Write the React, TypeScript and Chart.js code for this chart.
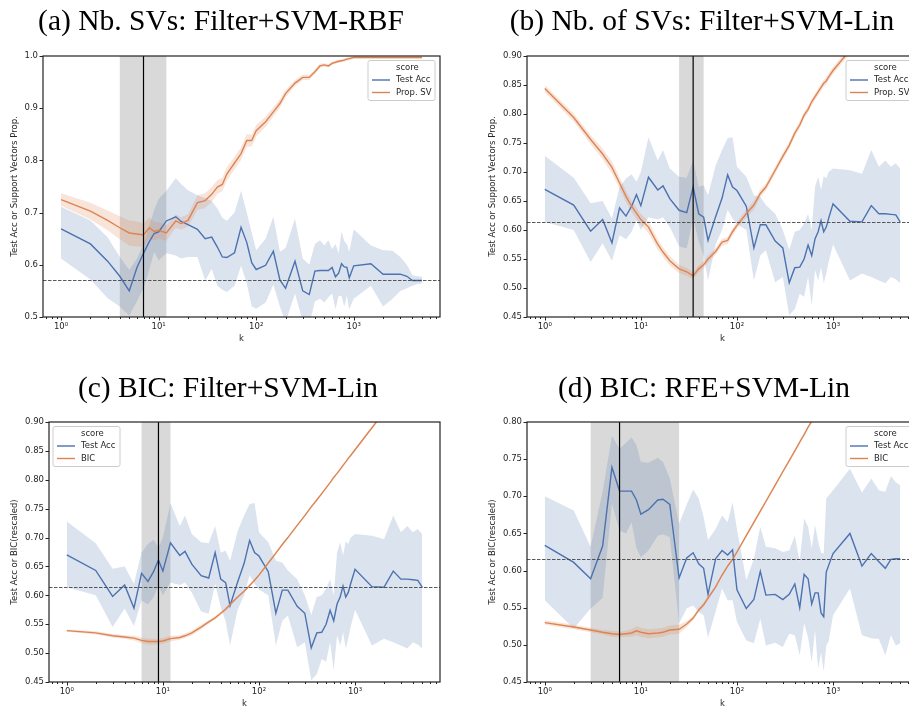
import React, { useEffect, useRef } from "react";
import { Chart, registerables } from "chart.js";
Chart.register(...registerables);

// ---------------- data ----------------
const kValues = [
  1, 2, 3, 4, 5, 6, 7, 8, 9, 10,
  12, 15, 17, 20, 25, 30, 35, 40, 45, 50,
  60, 70, 80, 90, 100, 125, 150, 175, 200, 250,
  300, 350, 400, 450, 500, 550, 600, 650, 700, 750,
  800, 850, 900, 1000, 1500, 2000, 2500, 3000, 3500, 4000,
  4500, 5000,
];

// (a) Filter + SVM-RBF
const rbfAcc = [
  0.669, 0.640, 0.607, 0.578, 0.550, 0.595, 0.622, 0.644, 0.660, 0.663,
  0.684, 0.692, 0.683, 0.677, 0.668, 0.650, 0.653, 0.634, 0.615, 0.614,
  0.623, 0.672, 0.643, 0.604, 0.591, 0.599, 0.626, 0.571, 0.555, 0.607,
  0.550, 0.543, 0.588, 0.589, 0.589, 0.589, 0.595, 0.577, 0.584, 0.602,
  0.596, 0.595, 0.575, 0.598, 0.602, 0.582, 0.582, 0.582, 0.578, 0.570,
  0.570, 0.570,
];
const rbfAccHi = [
  0.711, 0.685, 0.653, 0.615, 0.590, 0.612, 0.640, 0.675, 0.705, 0.726,
  0.742, 0.766, 0.755, 0.743, 0.733, 0.728, 0.722, 0.708, 0.690, 0.684,
  0.700, 0.742, 0.700, 0.662, 0.628, 0.650, 0.692, 0.625, 0.632, 0.688,
  0.612, 0.600, 0.640, 0.647, 0.637, 0.647, 0.630, 0.640, 0.622, 0.664,
  0.645, 0.640, 0.625, 0.668, 0.637, 0.628, 0.627, 0.615, 0.600, 0.580,
  0.578, 0.577,
];
const rbfAccLo = [
  0.612, 0.572, 0.536, 0.520, 0.503, 0.530, 0.555, 0.590, 0.625, 0.608,
  0.622, 0.618, 0.612, 0.615, 0.615, 0.570, 0.592, 0.560, 0.552, 0.548,
  0.560, 0.598, 0.565, 0.520, 0.516, 0.528, 0.562, 0.520, 0.490, 0.545,
  0.492, 0.486, 0.530, 0.535, 0.528, 0.538, 0.545, 0.515, 0.540, 0.540,
  0.520, 0.540, 0.515, 0.535, 0.560, 0.520, 0.535, 0.550, 0.555, 0.560,
  0.563, 0.564,
];
const rbfSV = [
  0.725, 0.703, 0.685, 0.671, 0.661, 0.659, 0.657, 0.671, 0.664, 0.666,
  0.661, 0.684, 0.679, 0.685, 0.719, 0.723, 0.735, 0.749, 0.754, 0.774,
  0.795, 0.813, 0.838, 0.838, 0.857, 0.874, 0.893, 0.909, 0.928, 0.948,
  0.959, 0.959, 0.970, 0.981, 0.983, 0.981, 0.986, 0.988, 0.990, 0.991,
  0.992, 0.994, 0.995, 0.997, 0.997, 0.997, 0.997, 0.997, 0.997, 0.997,
  0.997, 0.997,
];
const rbfSVHalf = [
  0.012, 0.016, 0.019, 0.022, 0.024, 0.024, 0.022, 0.020, 0.018, 0.016,
  0.015, 0.013, 0.012, 0.012, 0.014, 0.014, 0.014, 0.013, 0.013, 0.013,
  0.012, 0.012, 0.012, 0.011, 0.011, 0.010, 0.009, 0.008, 0.007, 0.006,
  0.005, 0.005, 0.004, 0.004, 0.003, 0.003, 0.003, 0.003, 0.003, 0.003,
  0.003, 0.003, 0.003, 0.002, 0.002, 0.002, 0.002, 0.002, 0.002, 0.002,
  0.002, 0.002,
];

// (b)/(c) Filter + SVM-Lin
const linAcc = [
  0.670, 0.643, 0.598, 0.618, 0.578, 0.638, 0.624, 0.641, 0.661, 0.642,
  0.691, 0.669, 0.676, 0.654, 0.634, 0.630, 0.674, 0.628, 0.622, 0.582,
  0.623, 0.655, 0.695, 0.674, 0.668, 0.641, 0.569, 0.609, 0.609, 0.581,
  0.569, 0.509, 0.535, 0.536, 0.550, 0.574, 0.556, 0.585, 0.597, 0.616,
  0.597, 0.605, 0.620, 0.645, 0.615, 0.614, 0.642, 0.628, 0.628, 0.627,
  0.626, 0.614,
];
const linAccHi = [
  0.728, 0.690, 0.646, 0.650, 0.620, 0.674, 0.689, 0.696, 0.683, 0.700,
  0.760, 0.720, 0.738, 0.706, 0.692, 0.690, 0.720, 0.674, 0.677, 0.660,
  0.711, 0.738, 0.758, 0.760, 0.709, 0.692, 0.660, 0.657, 0.643, 0.628,
  0.600, 0.566, 0.597, 0.600, 0.611, 0.628, 0.600, 0.674, 0.692, 0.669,
  0.693, 0.689, 0.700, 0.706, 0.703, 0.697, 0.738, 0.709, 0.720, 0.709,
  0.715, 0.706,
];
const linAccLo = [
  0.614, 0.600, 0.545, 0.577, 0.547, 0.591, 0.584, 0.597, 0.617, 0.600,
  0.622, 0.618, 0.622, 0.605, 0.572, 0.568, 0.620, 0.580, 0.555, 0.513,
  0.575, 0.600, 0.635, 0.620, 0.610, 0.600, 0.513, 0.556, 0.565, 0.510,
  0.519, 0.453, 0.464, 0.490, 0.485, 0.519, 0.470, 0.531, 0.513, 0.536,
  0.508, 0.525, 0.545, 0.575, 0.513, 0.525, 0.519, 0.513, 0.508, 0.519,
  0.515, 0.508,
];
const linSV = [
  0.844, 0.794, 0.756, 0.731, 0.708, 0.681, 0.658, 0.641, 0.629, 0.618,
  0.605, 0.575, 0.562, 0.547, 0.533, 0.528, 0.521, 0.533, 0.540, 0.550,
  0.563, 0.579, 0.582, 0.597, 0.608, 0.628, 0.643, 0.663, 0.674, 0.703,
  0.727, 0.746, 0.767, 0.781, 0.798, 0.808, 0.821, 0.830, 0.838, 0.846,
  0.853, 0.857, 0.864, 0.875, 0.910, 0.930, 0.945, 0.955, 0.963, 0.970,
  0.975, 0.980,
];
const linSVHalf = [
  0.006, 0.007, 0.008, 0.009, 0.010, 0.010, 0.010, 0.010, 0.010, 0.010,
  0.010, 0.009, 0.008, 0.008, 0.007, 0.007, 0.006, 0.006, 0.006, 0.006,
  0.006, 0.006, 0.006, 0.006, 0.006, 0.007, 0.008, 0.007, 0.006, 0.006,
  0.006, 0.006, 0.006, 0.006, 0.006, 0.006, 0.006, 0.006, 0.006, 0.006,
  0.006, 0.006, 0.006, 0.006, 0.006, 0.006, 0.006, 0.006, 0.006, 0.006,
  0.006, 0.006,
];
const bicLin = [
  0.539, 0.535, 0.530, 0.528, 0.526, 0.522, 0.520, 0.520, 0.520, 0.521,
  0.525, 0.527, 0.530, 0.535, 0.545, 0.554, 0.561, 0.569, 0.576, 0.584,
  0.597, 0.607, 0.617, 0.626, 0.635, 0.656, 0.673, 0.688, 0.700, 0.721,
  0.738, 0.753, 0.765, 0.776, 0.786, 0.795, 0.804, 0.811, 0.818, 0.825,
  0.831, 0.837, 0.842, 0.852, 0.890, 0.917, 0.938, 0.955, 0.970, 0.982,
  0.994, 1.004,
];
const bicLinHalf = [
  0.002, 0.003, 0.003, 0.003, 0.004, 0.005, 0.005, 0.005, 0.005, 0.005,
  0.005, 0.004, 0.004, 0.004, 0.004, 0.003, 0.003, 0.003, 0.003, 0.003,
  0.002, 0.002, 0.002, 0.002, 0.002, 0.002, 0.002, 0.002, 0.002, 0.002,
  0.002, 0.002, 0.002, 0.002, 0.002, 0.002, 0.002, 0.002, 0.002, 0.002,
  0.002, 0.002, 0.002, 0.002, 0.002, 0.002, 0.002, 0.002, 0.002, 0.002,
  0.002, 0.002,
];

// (d) RFE + SVM-Lin
const rfeAcc = [
  0.634, 0.611, 0.589, 0.633, 0.739, 0.707, 0.707, 0.707, 0.695, 0.676,
  0.682, 0.695, 0.696, 0.689, 0.590, 0.617, 0.624, 0.609, 0.603, 0.568,
  0.616, 0.627, 0.621, 0.628, 0.574, 0.549, 0.561, 0.599, 0.567, 0.568,
  0.561, 0.568, 0.582, 0.550, 0.595, 0.589, 0.555, 0.570, 0.570, 0.543,
  0.538, 0.598, 0.607, 0.623, 0.650, 0.606, 0.623, 0.612, 0.603, 0.615,
  0.616, 0.616,
];
const rfeAccHi = [
  0.700, 0.681, 0.632, 0.706, 0.781, 0.764, 0.772, 0.779, 0.769, 0.746,
  0.745, 0.752, 0.746, 0.724, 0.663, 0.689, 0.709, 0.697, 0.672, 0.641,
  0.656, 0.674, 0.665, 0.692, 0.656, 0.587, 0.616, 0.659, 0.632, 0.630,
  0.625, 0.627, 0.647, 0.612, 0.670, 0.659, 0.630, 0.661, 0.639, 0.624,
  0.623, 0.697, 0.701, 0.708, 0.737, 0.705, 0.724, 0.708, 0.706, 0.727,
  0.719, 0.715,
];
const rfeAccLo = [
  0.560, 0.522, 0.549, 0.563, 0.690, 0.654, 0.650, 0.665, 0.630, 0.618,
  0.627, 0.647, 0.649, 0.645, 0.529, 0.549, 0.553, 0.544, 0.540, 0.510,
  0.545, 0.576, 0.560, 0.560, 0.531, 0.506, 0.502, 0.535, 0.499, 0.503,
  0.497, 0.515, 0.513, 0.486, 0.529, 0.510, 0.477, 0.520, 0.468, 0.490,
  0.464, 0.499, 0.505, 0.540, 0.576, 0.513, 0.509, 0.508, 0.486, 0.513,
  0.499, 0.502,
];
const rfeBic = [
  0.530, 0.524, 0.520, 0.517, 0.515, 0.514, 0.515, 0.516, 0.519, 0.517,
  0.515, 0.516, 0.517, 0.520, 0.521, 0.528, 0.536, 0.547, 0.554, 0.563,
  0.578, 0.594, 0.606, 0.615, 0.625, 0.647, 0.665, 0.680, 0.693, 0.715,
  0.733, 0.748, 0.761, 0.773, 0.783, 0.793, 0.801, 0.809, 0.816, 0.823,
  0.829, 0.835, 0.840, 0.851, 0.891, 0.919, 0.941, 0.959, 0.974, 0.987,
  0.999, 1.009,
];
const rfeBicHalf = [
  0.003, 0.003, 0.003, 0.003, 0.004, 0.004, 0.004, 0.005, 0.006, 0.006,
  0.006, 0.006, 0.006, 0.006, 0.006, 0.004, 0.003, 0.003, 0.003, 0.003,
  0.002, 0.002, 0.002, 0.002, 0.002, 0.002, 0.002, 0.002, 0.002, 0.002,
  0.002, 0.002, 0.002, 0.002, 0.002, 0.002, 0.002, 0.002, 0.002, 0.002,
  0.002, 0.002, 0.002, 0.002, 0.002, 0.002, 0.002, 0.002, 0.002, 0.002,
  0.002, 0.002,
];

// ticks
const xTickValues = [1, 10, 100, 1000];
const xTickLabels = ["10\u2070", "10\u00b9", "10\u00b2", "10\u00b3"];
const yTicksA = [0.5, 0.6, 0.7, 0.8, 0.9, 1.0];
const yTicksBC = [0.45, 0.5, 0.55, 0.6, 0.65, 0.7, 0.75, 0.8, 0.85, 0.9];
const yTicksD = [0.45, 0.5, 0.55, 0.6, 0.65, 0.7, 0.75, 0.8];

const titles = [
  "(a) Nb. SVs: Filter+SVM-RBF",
  "(b) Nb. of SVs: Filter+SVM-Lin",
  "(c) BIC: Filter+SVM-Lin",
  "(d) BIC: RFE+SVM-Lin",
];

// ---------------- styles ----------------
const BLUE = "#4c72b0";
const ORANGE = "#dd8452";
const TEXT = "#262626";
const X_MIN = 0.653;
const X_MAX = 7660;
const FONT = "DejaVu Sans";

type Spec = {
  left: number; top: number; width: number; height: number;
  area: { left: number; top: number; right: number; bottom: number };
  yMin: number; yMax: number; yTicks: number[]; yDec: number;
  acc: number[]; accLo: number[]; accHi: number[];
  other: number[]; otherHalf: number[]; otherLabel: string;
  span: [number, number]; best: number; baseline: number;
  yTitle: string; yTitleOffset: number; legendSide: "left" | "right";
};

const specs: Spec[] = [
  {
    left: 0, top: 40, width: 450, height: 320,
    area: { left: 43, top: 16, right: 440, bottom: 277 },
    yMin: 0.5, yMax: 1.0, yTicks: yTicksA, yDec: 1,
    acc: rbfAcc, accLo: rbfAccLo, accHi: rbfAccHi,
    other: rbfSV, otherHalf: rbfSVHalf, otherLabel: "Prop. SV",
    span: [4, 12], best: 7, baseline: 0.570,
    yTitle: "Test Acc or Support Vectors Prop.", yTitleOffset: 28, legendSide: "right",
  },
  {
    left: 460, top: 40, width: 470, height: 320,
    area: { left: 67, top: 16, right: 458, bottom: 277 },
    yMin: 0.45, yMax: 0.9, yTicks: yTicksBC, yDec: 2,
    acc: linAcc, accLo: linAccLo, accHi: linAccHi,
    other: linSV, otherHalf: linSVHalf, otherLabel: "Prop. SV",
    span: [25, 45], best: 35, baseline: 0.614,
    yTitle: "Test Acc or Support Vectors Prop.", yTitleOffset: 34, legendSide: "right",
  },
  {
    left: 0, top: 406, width: 450, height: 303,
    area: { left: 49, top: 16, right: 440, bottom: 276 },
    yMin: 0.45, yMax: 0.9, yTicks: yTicksBC, yDec: 2,
    acc: linAcc, accLo: linAccLo, accHi: linAccHi,
    other: bicLin, otherHalf: bicLinHalf, otherLabel: "BIC",
    span: [6, 12], best: 9, baseline: 0.614,
    yTitle: "Test Acc or BIC(rescaled)", yTitleOffset: 34, legendSide: "left",
  },
  {
    left: 460, top: 406, width: 470, height: 303,
    area: { left: 67, top: 16, right: 458, bottom: 276 },
    yMin: 0.45, yMax: 0.8, yTicks: yTicksD, yDec: 2,
    acc: rfeAcc, accLo: rfeAccLo, accHi: rfeAccHi,
    other: rfeBic, otherHalf: rfeBicHalf, otherLabel: "BIC",
    span: [3, 25], best: 6, baseline: 0.616,
    yTitle: "Test Acc or BIC(rescaled)", yTitleOffset: 34, legendSide: "right",
  },
];

function overlay(s: Spec) {
  return {
    id: "overlay",
    beforeDatasetsDraw(chart: any) {
      const { ctx, chartArea: a } = chart;
      const x = chart.scales.x;
      const x0 = x.getPixelForValue(s.span[0]);
      const x1 = x.getPixelForValue(s.span[1]);
      ctx.save();
      ctx.fillStyle = "rgba(128,128,128,0.3)";
      ctx.fillRect(x0, a.top, x1 - x0, a.bottom - a.top);
      ctx.restore();
    },
    afterDatasetsDraw(chart: any) {
      const { ctx, chartArea: a } = chart;
      const x = chart.scales.x;
      const y = chart.scales.y;
      ctx.save();
      ctx.beginPath();
      ctx.rect(a.left, a.top, a.right - a.left, a.bottom - a.top);
      ctx.clip();
      const hy = Math.round(y.getPixelForValue(s.baseline)) + 0.5;
      ctx.strokeStyle = "rgba(70,70,70,0.9)";
      ctx.lineWidth = 1;
      ctx.setLineDash([3.5, 1.5]);
      ctx.beginPath();
      ctx.moveTo(a.left, hy);
      ctx.lineTo(a.right, hy);
      ctx.stroke();
      ctx.setLineDash([]);
      const vx = x.getPixelForValue(s.best);
      ctx.strokeStyle = "#000";
      ctx.lineWidth = 1.2;
      ctx.beginPath();
      ctx.moveTo(vx, a.top);
      ctx.lineTo(vx, a.bottom);
      ctx.stroke();
      ctx.restore();
    },
    afterDraw(chart: any) {
      const { ctx, chartArea: a } = chart;
      const x = chart.scales.x;
      const y = chart.scales.y;
      ctx.save();
      // frame
      ctx.strokeStyle = "#222";
      ctx.lineWidth = 1.2;
      ctx.strokeRect(a.left, a.top, a.right - a.left, a.bottom - a.top);
      // y ticks
      ctx.lineWidth = 1;
      ctx.beginPath();
      for (const v of s.yTicks) {
        const py = Math.round(y.getPixelForValue(v)) + 0.5;
        ctx.moveTo(a.left - 3.5, py);
        ctx.lineTo(a.left, py);
      }
      // x ticks (major + minor)
      for (let e = -1; e <= 4; e++) {
        for (let m = 1; m <= 9; m++) {
          const v = m * Math.pow(10, e);
          if (v < X_MIN || v > X_MAX) continue;
          const px = Math.round(x.getPixelForValue(v)) + 0.5;
          ctx.moveTo(px, a.bottom);
          ctx.lineTo(px, a.bottom + (m === 1 ? 3.5 : 2));
        }
      }
      ctx.stroke();
      // axis titles
      ctx.fillStyle = TEXT;
      ctx.font = `8.5px "${FONT}"`;
      ctx.textAlign = "center";
      ctx.textBaseline = "middle";
      ctx.fillText("k", (a.left + a.right) / 2, a.bottom + 22);
      ctx.save();
      ctx.translate(a.left - s.yTitleOffset, (a.top + a.bottom) / 2);
      ctx.rotate(-Math.PI / 2);
      ctx.fillText(s.yTitle, 0, 0);
      ctx.restore();
      // legend
      const w = 67, h = 40;
      const bx = s.legendSide === "right" ? a.right - 5 - w : a.left + 4;
      const by = a.top + 4.5;
      ctx.fillStyle = "rgba(255,255,255,0.8)";
      ctx.strokeStyle = "#cccccc";
      ctx.lineWidth = 1;
      ctx.beginPath();
      const r = 2;
      ctx.moveTo(bx + r, by);
      ctx.lineTo(bx + w - r, by);
      ctx.arcTo(bx + w, by, bx + w, by + r, r);
      ctx.lineTo(bx + w, by + h - r);
      ctx.arcTo(bx + w, by + h, bx + w - r, by + h, r);
      ctx.lineTo(bx + r, by + h);
      ctx.arcTo(bx, by + h, bx, by + h - r, r);
      ctx.lineTo(bx, by + r);
      ctx.arcTo(bx, by, bx + r, by, r);
      ctx.closePath();
      ctx.fill();
      ctx.stroke();
      const rows = [
        { label: "score", color: null as string | null },
        { label: "Test Acc", color: BLUE },
        { label: s.otherLabel, color: ORANGE },
      ];
      ctx.textAlign = "left";
      ctx.textBaseline = "middle";
      rows.forEach((row, i) => {
        const ry = by + 7 + i * 12.5;
        if (row.color) {
          ctx.strokeStyle = row.color;
          ctx.lineWidth = 1.4;
          ctx.beginPath();
          ctx.moveTo(bx + 4, ry);
          ctx.lineTo(bx + 22, ry);
          ctx.stroke();
        }
        ctx.fillStyle = TEXT;
        ctx.fillText(row.label, bx + 28, ry);
      });
      ctx.restore();
    },
  };
}

function Panel({ spec }: { spec: Spec }) {
  const ref = useRef<HTMLCanvasElement>(null);
  useEffect(() => {
    const s = spec;
    const pts = (arr: number[]) => kValues.map((k, i) => ({ x: k, y: arr[i] }));
    const otherLo = s.other.map((v, i) => v - s.otherHalf[i]);
    const otherHi = s.other.map((v, i) => v + s.otherHalf[i]);
    const band = (data: any, fill: any, color: string, order: number) => ({
      data, fill, order,
      borderWidth: 0, pointRadius: 0,
      backgroundColor: color, borderColor: "rgba(0,0,0,0)",
    });
    const font = { family: FONT, size: 8.5 };
    const chart = new Chart(ref.current as HTMLCanvasElement, {
      type: "line",
      data: {
        datasets: [
          band(pts(s.accHi), "+1", "rgba(76,114,176,0.2)", 6),
          band(pts(s.accLo), false, "rgba(0,0,0,0)", 6),
          band(pts(otherHi), "+1", "rgba(221,132,82,0.22)", 5),
          band(pts(otherLo), false, "rgba(0,0,0,0)", 5),
          { data: pts(s.acc), borderColor: BLUE, borderWidth: 1.4, pointRadius: 0, fill: false, order: 2, tension: 0 },
          { data: pts(s.other), borderColor: ORANGE, borderWidth: 1.4, pointRadius: 0, fill: false, order: 1, tension: 0 },
        ] as any,
      },
      options: {
        animation: false,
        responsive: false,
        devicePixelRatio: 1,
        events: [],
        layout: {
          autoPadding: false,
          padding: { left: 0, top: s.area.top, right: s.width - s.area.right, bottom: 0 },
        },
        plugins: { legend: { display: false }, tooltip: { enabled: false } },
        scales: {
          x: {
            type: "logarithmic",
            min: X_MIN,
            max: X_MAX,
            grid: { display: false, drawTicks: false },
            border: { display: false },
            afterBuildTicks: (sc: any) => {
              sc.ticks = xTickValues.map((v) => ({ value: v }));
            },
            afterFit: (sc: any) => {
              sc.height = s.height - s.area.bottom;
            },
            ticks: {
              autoSkip: false,
              maxRotation: 0,
              minRotation: 0,
              padding: 5,
              color: TEXT,
              font,
              callback: (_v: any, i: number) => xTickLabels[i],
            },
          },
          y: {
            type: "linear",
            min: s.yMin,
            max: s.yMax,
            grid: { display: false, drawTicks: false },
            border: { display: false },
            afterBuildTicks: (sc: any) => {
              sc.ticks = s.yTicks.map((v) => ({ value: v }));
            },
            afterFit: (sc: any) => {
              sc.width = s.area.left;
            },
            ticks: {
              padding: 5,
              color: TEXT,
              font,
              callback: (v: any) => Number(v).toFixed(s.yDec),
            },
          },
        },
      } as any,
      plugins: [overlay(s)],
    });
    return () => chart.destroy();
  }, [spec]);
  return (
    <canvas
      ref={ref}
      width={spec.width}
      height={spec.height}
      style={{ position: "absolute", left: spec.left, top: spec.top, width: spec.width, height: spec.height }}
    />
  );
}

export default function App() {
  const titlePos = [
    { x: 221, y: 30 },
    { x: 702, y: 30 },
    { x: 228, y: 397 },
    { x: 704, y: 397 },
  ];
  return (
    <div style={{ position: "fixed", left: 0, top: 0, width: 909, height: 709, overflow: "hidden", background: "#fff" }}>
      {specs.map((s, i) => (
        <Panel key={i} spec={s} />
      ))}
      <svg width={909} height={709} style={{ position: "absolute", left: 0, top: 0, pointerEvents: "none" }}>
        {titles.map((t, i) => (
          <text
            key={i}
            x={titlePos[i].x}
            y={titlePos[i].y}
            textAnchor="middle"
            fontFamily="'Liberation Serif', serif"
            fontSize={29.5}
            fill="#000"
          >
            {t}
          </text>
        ))}
      </svg>
    </div>
  );
}
